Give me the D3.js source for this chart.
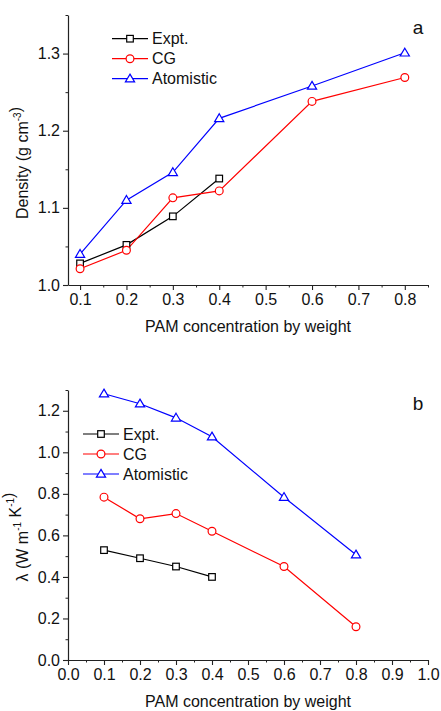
<!DOCTYPE html>
<html>
<head>
<meta charset="utf-8">
<script src="https://cdn.jsdelivr.net/npm/d3@7"></script>
<style>
  body { margin: 0; background: #fff; }
  text { font-family: Arial, "Liberation Sans", sans-serif; }
</style>
</head>
<body>
<div id="chart"></div>
<script>
// Data
const exptConc = [0.1, 0.2, 0.3, 0.4];
const simConc = [0.1, 0.2, 0.3, 0.4, 0.6, 0.8];

const densityExpt = [1.028, 1.052, 1.089, 1.138];
const densityCG = [1.021, 1.045, 1.113, 1.122, 1.238, 1.269];
const densityAtom = [1.040, 1.110, 1.146, 1.216, 1.258, 1.301];

const condExpt = [0.529, 0.490, 0.450, 0.400];
const condCG = [0.784, 0.680, 0.705, 0.620, 0.450, 0.160];
const condAtom = [1.282, 1.234, 1.166, 1.075, 0.784, 0.507];

const ticksXA = [0.1, 0.2, 0.3, 0.4, 0.5, 0.6, 0.7, 0.8];
const ticksYA = [1.0, 1.1, 1.2, 1.3];
const ticksXB = [0.0, 0.1, 0.2, 0.3, 0.4, 0.5, 0.6, 0.7, 0.8, 0.9, 1.0];
const ticksYB = [0.0, 0.2, 0.4, 0.6, 0.8, 1.0, 1.2];

const legendNames = ["Expt.", "CG", "Atomistic"];
const colors = ["#000000", "#ff0000", "#0000ff"];
const shapes = ["square", "circle", "triangle"];

const svg = d3.select("#chart")
  .append("svg")
    .attr("width", 441)
    .attr("height", 711);

function marker(g, shape, color, x, y) {
  if (shape === "square") {
    g.append("rect")
      .attr("x", x - 3.3).attr("y", y - 3.3)
      .attr("width", 6.6).attr("height", 6.6)
      .attr("fill", "#fff").attr("stroke", color).attr("stroke-width", 1.2);
  } else if (shape === "circle") {
    g.append("circle")
      .attr("cx", x).attr("cy", y).attr("r", 3.9)
      .attr("fill", "#fff").attr("stroke", color).attr("stroke-width", 1.2);
  } else {
    g.append("path")
      .attr("d", `M${x},${y - 4.6}L${x + 4.6},${y + 3.2}L${x - 4.6},${y + 3.2}Z`)
      .attr("fill", "#fff").attr("stroke", color).attr("stroke-width", 1.2);
  }
}

function panel(opt) {
  const g = svg.append("g");
  const x = d3.scaleLinear().domain(opt.xDomain).range([68, 428]);
  const y = d3.scaleLinear().domain(opt.yDomain).range([opt.bottom, opt.top]);

  // Minor ticks
  const xMinor = d3.range(opt.xMinor[0], opt.xMinor[1] + 1e-9, opt.xMinor[2]);
  const yMinor = d3.range(opt.yMinor[0], opt.yMinor[1] + 1e-9, opt.yMinor[2]);
  g.append("g")
    .attr("transform", `translate(0,${opt.bottom})`)
    .call(d3.axisBottom(x).tickValues(xMinor).tickSize(2.5).tickFormat(""))
    .call(a => a.select(".domain").remove())
    .selectAll("line").attr("stroke", "#222");
  g.append("g")
    .attr("transform", "translate(68,0)")
    .call(d3.axisLeft(y).tickValues(yMinor).tickSize(2.5).tickFormat(""))
    .call(a => a.select(".domain").remove())
    .selectAll("line").attr("stroke", "#222");

  // Major axes
  const xAxis = g.append("g")
    .attr("transform", `translate(0,${opt.bottom})`)
    .call(d3.axisBottom(x).tickValues(opt.xTicks).tickSize(5).tickSizeOuter(0)
      .tickPadding(4).tickFormat(d3.format(".1f")));
  const yAxis = g.append("g")
    .attr("transform", "translate(68,0)")
    .call(d3.axisLeft(y).tickValues(opt.yTicks).tickSize(5).tickSizeOuter(0)
      .tickPadding(3).tickFormat(d3.format(".1f")));
  [xAxis, yAxis].forEach(a => {
    a.select(".domain").attr("stroke", "#222").attr("stroke-width", 1.2);
    a.selectAll("line").attr("stroke", "#222").attr("stroke-width", 1.1);
    a.selectAll("text").attr("font-size", 16).attr("fill", "#111")
      .style("font-family", "Arial, 'Liberation Sans', sans-serif");
  });

  // Series
  const series = [
    {xs: exptConc, ys: opt.expt},
    {xs: simConc, ys: opt.cg},
    {xs: simConc, ys: opt.atom}
  ];
  const line = d3.line().x(d => x(d[0])).y(d => y(d[1]));
  series.forEach((s, i) => {
    const pts = s.xs.map((v, j) => [v, s.ys[j]]);
    g.append("path")
      .attr("d", line(pts))
      .attr("fill", "none")
      .attr("stroke", colors[i])
      .attr("stroke-width", 1.2);
  });
  series.forEach((s, i) => {
    s.xs.forEach((v, j) => marker(g, shapes[i], colors[i], x(v), y(s.ys[j])));
  });

  // Legend
  legendNames.forEach((name, i) => {
    const ly = opt.legY + i * 20;
    g.append("line")
      .attr("x1", opt.legX).attr("x2", opt.legX + 36)
      .attr("y1", ly).attr("y2", ly)
      .attr("stroke", colors[i]).attr("stroke-width", 1.2);
    marker(g, shapes[i], colors[i], opt.legX + 18, ly);
    g.append("text")
      .attr("x", opt.legX + 40).attr("y", ly)
      .attr("dy", "0.36em")
      .attr("font-size", 16)
      .attr("fill", "#111")
      .text(name);
  });

  // Panel letter
  g.append("text")
    .attr("x", 418).attr("y", opt.letterY)
    .attr("text-anchor", "middle")
    .attr("dy", "0.36em")
    .attr("font-size", 19)
    .attr("fill", "#111")
    .text(opt.letter);

  // X label
  g.append("text")
    .attr("x", 248).attr("y", opt.bottom + 47)
    .attr("text-anchor", "middle")
    .attr("font-size", 16)
    .attr("fill", "#111")
    .text("PAM concentration by weight");

  // Y label
  const yl = g.append("text")
    .attr("transform", `translate(28,${opt.yLabelY}) rotate(-90)`)
    .attr("text-anchor", "middle")
    .attr("font-size", 16)
    .attr("fill", "#111");
  opt.yLabel.forEach(part => {
    if (part.sup) {
      yl.append("tspan").attr("font-size", 10).attr("dy", -7).text(part.t);
      yl.append("tspan").attr("dy", 7).text("");
    } else {
      yl.append("tspan").text(part.t);
    }
  });
  return g;
}

panel({
  xDomain: [0.074, 0.85], yDomain: [1.0, 1.35],
  top: 15, bottom: 285,
  xTicks: ticksXA, yTicks: ticksYA,
  xMinor: [0.15, 0.85, 0.1], yMinor: [1.05, 1.35, 0.1],
  expt: densityExpt, cg: densityCG, atom: densityAtom,
  legX: 112, legY: 38.7,
  letter: "a", letterY: 27,
  yLabelY: 163,
  yLabel: [{t: "Density (g cm"}, {t: "-3", sup: true}, {t: ")"}]
});

panel({
  xDomain: [0, 1], yDomain: [0, 1.3],
  top: 390, bottom: 660,
  xTicks: ticksXB, yTicks: ticksYB,
  xMinor: [0.05, 0.95, 0.1], yMinor: [0.1, 1.3, 0.2],
  expt: condExpt, cg: condCG, atom: condAtom,
  legX: 83, legY: 434,
  letter: "b", letterY: 403,
  yLabelY: 537,
  yLabel: [{t: "λ (W m"}, {t: "-1", sup: true}, {t: " K"}, {t: "-1", sup: true}, {t: ")"}]
});
</script>
</body>
</html>
